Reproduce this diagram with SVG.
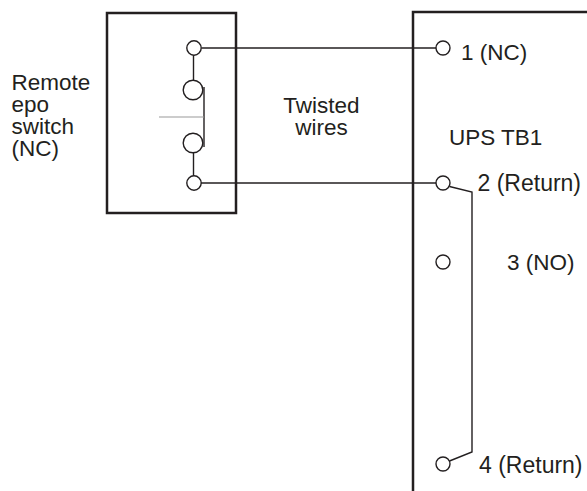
<svg xmlns="http://www.w3.org/2000/svg" width="587" height="491" viewBox="0 0 587 491">
<style>
.box{fill:none;stroke:#231f20;stroke-width:2.5}
.w{fill:none;stroke:#231f20;stroke-width:1.4}
.c{fill:#fff;stroke:#231f20;stroke-width:1.4}
.t{font-family:"Liberation Sans",Arial,sans-serif;font-size:22.5px;fill:#231f20}
</style>
<rect width="587" height="491" fill="#fff"/>
<g id="connectors">
<line class="w" x1="201.5" y1="48" x2="436" y2="48"/>
<line class="w" x1="201" y1="183" x2="436" y2="183"/>
<polyline class="w" points="449.5,186.5 472,192 472,452 449.5,461"/>
</g>
<g id="remote-switch">
<rect class="box" x="107" y="13" width="129" height="200"/>
<line class="w" x1="193.5" y1="55" x2="193.5" y2="81"/>
<line class="w" x1="193.5" y1="152" x2="193.5" y2="176"/>
<line class="w" x1="204" y1="87" x2="204" y2="147"/>
<line x1="159" y1="117" x2="204" y2="117" stroke="#999" stroke-width="1"/>
<circle class="c" cx="194" cy="48" r="7.2"/>
<circle class="c" cx="193" cy="90" r="9.8"/>
<circle class="c" cx="193" cy="143" r="9.8"/>
<circle class="c" cx="194" cy="183" r="7.2"/>
</g>
<g id="remote-label">
<text class="t" x="11.5" y="90">Remote<tspan x="11.5" dy="22">epo</tspan><tspan x="11.5" dy="22">switch</tspan><tspan x="11.5" dy="22">(NC)</tspan></text>
</g>
<g id="twisted-label">
<text class="t" x="321.5" y="112.5" text-anchor="middle">Twisted<tspan x="321.5" dy="22.5">wires</tspan></text>
</g>
<g id="ups-tb1">
<path class="box" d="M413,495 V12 H592"/>
<text class="t" x="449" y="145">UPS TB1</text>
</g>
<g id="terminal-1">
<circle class="c" cx="443" cy="48" r="7"/>
<text class="t" x="461" y="60">1 (NC)</text>
</g>
<g id="terminal-2">
<circle class="c" cx="443" cy="183" r="7"/>
<text class="t" x="477.5" y="191" style="font-size:23px">2 (Return)</text>
</g>
<g id="terminal-3">
<circle class="c" cx="443" cy="262" r="7"/>
<text class="t" x="507" y="270">3 (NO)</text>
</g>
<g id="terminal-4">
<circle class="c" cx="443" cy="464" r="7"/>
<text class="t" x="479" y="473" style="font-size:23px">4 (Return)</text>
</g>
</svg>
